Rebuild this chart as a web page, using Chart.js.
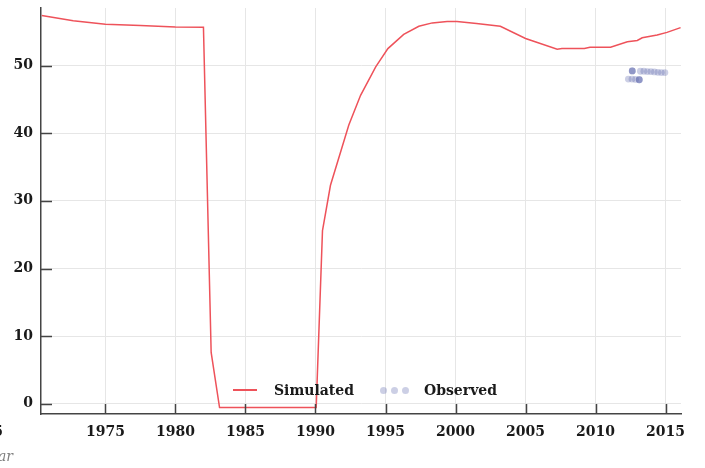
<!DOCTYPE html>
<html>
<head>
<meta charset="utf-8">
<script src="https://cdn.jsdelivr.net/npm/chart.js@4"></script>
<style>
  body { margin: 0; background: #fff; }
  #wrap { position: relative; width: 705px; height: 468px; overflow: hidden; }
  #wrap canvas { position: absolute; left: 0; top: 0; }
  .txt { position: absolute; font: bold 14px "DejaVu Serif", serif; color: #1a1a1a; white-space: nowrap; line-height: 18px; height: 18px; }
  .cut { left: -60px; width: 63px; text-align: right; }
  .ytitle { left: -60px; width: 73px; text-align: right; font: italic 14px "DejaVu Serif", serif; color: #808080; }
  .lline { position: absolute; height: 1.5px; background: rgb(238, 82, 90); }
  .ldot { position: absolute; width: 7px; height: 7px; border-radius: 50%; background: rgba(85, 95, 170, 0.3); }
</style>
</head>
<body>
<div id="wrap">
  <canvas id="chart" width="705" height="468"></canvas>
  <!-- neighbouring panel, cut off at the left edge -->
  <div class="txt cut" style="top:422px">2015</div>
  <div class="txt ytitle" style="top:448px">Year</div>
  <!-- legend -->
  <div class="lline" style="left:233px; top:389px; width:24px"></div>
  <div class="txt" style="left:274px; top:381px">Simulated</div>
  <div class="ldot" style="left:380px; top:387px"></div>
  <div class="ldot" style="left:391px; top:387px"></div>
  <div class="ldot" style="left:402px; top:387px"></div>
  <div class="txt" style="left:424px; top:381px">Observed</div>
</div>
<script>
// simulated series
const simYears = [1970.45, 1972.7, 1975, 1977.5, 1980, 1982.0, 1982.55, 1983.15, 1990.05,
  1990.5, 1991.07, 1992.38, 1993.22, 1994.3, 1995.17, 1996.3, 1997.38, 1998.34, 1999.4,
  2000.1, 2001.5, 2003.2, 2005.0, 2007.26, 2007.6, 2009.2, 2009.6, 2011.07, 2012.27,
  2012.98, 2013.33, 2014.4, 2015.1, 2016.07];
const simValues = [57.4, 56.6, 56.1, 55.9, 55.7, 55.65, 7.6, -0.55, -0.55,
  25.6, 32.3, 41.2, 45.6, 49.8, 52.5, 54.6, 55.8, 56.3, 56.5,
  56.5, 56.2, 55.8, 54.0, 52.4, 52.5, 52.5, 52.7, 52.7, 53.5,
  53.7, 54.1, 54.5, 54.9, 55.6];

// observed points (repeated entries sit on top of each other)
const obsYears = [2012.62, 2012.62, 2012.62,
  2013.2, 2013.45, 2013.7, 2013.95, 2014.2, 2014.45, 2014.7, 2014.95,
  2012.34, 2012.6, 2012.85, 2013.12, 2013.12, 2013.12];
const obsValues = [49.2, 49.2, 49.2,
  49.15, 49.15, 49.1, 49.1, 49.05, 49.0, 48.95, 48.95,
  48.0, 48.0, 47.95, 47.9, 47.9, 47.9];

const xTicks = [1975, 1980, 1985, 1990, 1995, 2000, 2005, 2010, 2015];
const yTicks = [0, 10, 20, 30, 40, 50];

const tickFont = { family: 'DejaVu Serif', size: 14, weight: 'bold' };

// short tick marks pointing into the plot
const innerTicks = {
  id: 'innerTicks',
  afterDraw(chart) {
    const { ctx, chartArea, scales } = chart;
    ctx.save();
    ctx.strokeStyle = '#444';
    ctx.lineWidth = 1.5;
    ctx.beginPath();
    xTicks.forEach(v => {
      const x = Math.round(scales.x.getPixelForValue(v)) + 0.5;
      ctx.moveTo(x, chartArea.bottom);
      ctx.lineTo(x, chartArea.bottom - 10);
    });
    yTicks.forEach(v => {
      const y = Math.round(scales.y.getPixelForValue(v)) + 0.5;
      ctx.moveTo(chartArea.left, y);
      ctx.lineTo(chartArea.left + 11, y);
    });
    ctx.stroke();
    ctx.restore();
  }
};

new Chart(document.getElementById('chart'), {
  type: 'line',
  data: {
    datasets: [{
      label: 'Simulated',
      data: simYears.map((x, i) => ({ x: x, y: simValues[i] })),
      borderColor: 'rgb(238, 82, 90)',
      borderWidth: 1.5,
      pointRadius: 0,
      tension: 0
    }, {
      label: 'Observed',
      data: obsYears.map((x, i) => ({ x: x, y: obsValues[i] })),
      showLine: false,
      pointRadius: 3.4,
      pointBorderWidth: 0,
      pointBackgroundColor: 'rgba(85, 95, 170, 0.3)',
      borderColor: 'rgba(85, 95, 170, 0.3)'
    }]
  },
  options: {
    responsive: false,
    animation: false,
    layout: { padding: { left: 0, top: 8, right: 24, bottom: 0 } },
    plugins: { legend: { display: false }, tooltip: { enabled: false } },
    scales: {
      x: {
        type: 'linear',
        min: 1970.4,
        max: 2016.1,
        afterFit: s => { s.height = 54; s.paddingLeft = 0; s.paddingRight = 0; },
        afterBuildTicks: s => { s.ticks = xTicks.map(v => ({ value: v })); },
        grid: { color: '#e6e6e6', lineWidth: 1, drawTicks: false },
        border: { color: '#444', width: 1.5 },
        ticks: { font: tickFont, color: '#1a1a1a', padding: 10, maxRotation: 0, callback: v => String(v) }
      },
      y: {
        min: -1.5,
        max: 58.5,
        afterFit: s => { s.width = 41; s.paddingTop = 0; s.paddingBottom = 0; },
        afterBuildTicks: s => { s.ticks = yTicks.map(v => ({ value: v })); },
        grid: { color: '#e6e6e6', lineWidth: 1, drawTicks: false },
        border: { color: '#444', width: 1.5 },
        ticks: { font: tickFont, color: '#1a1a1a', padding: 8 }
      }
    }
  },
  plugins: [innerTicks]
});
</script>
</body>
</html>
